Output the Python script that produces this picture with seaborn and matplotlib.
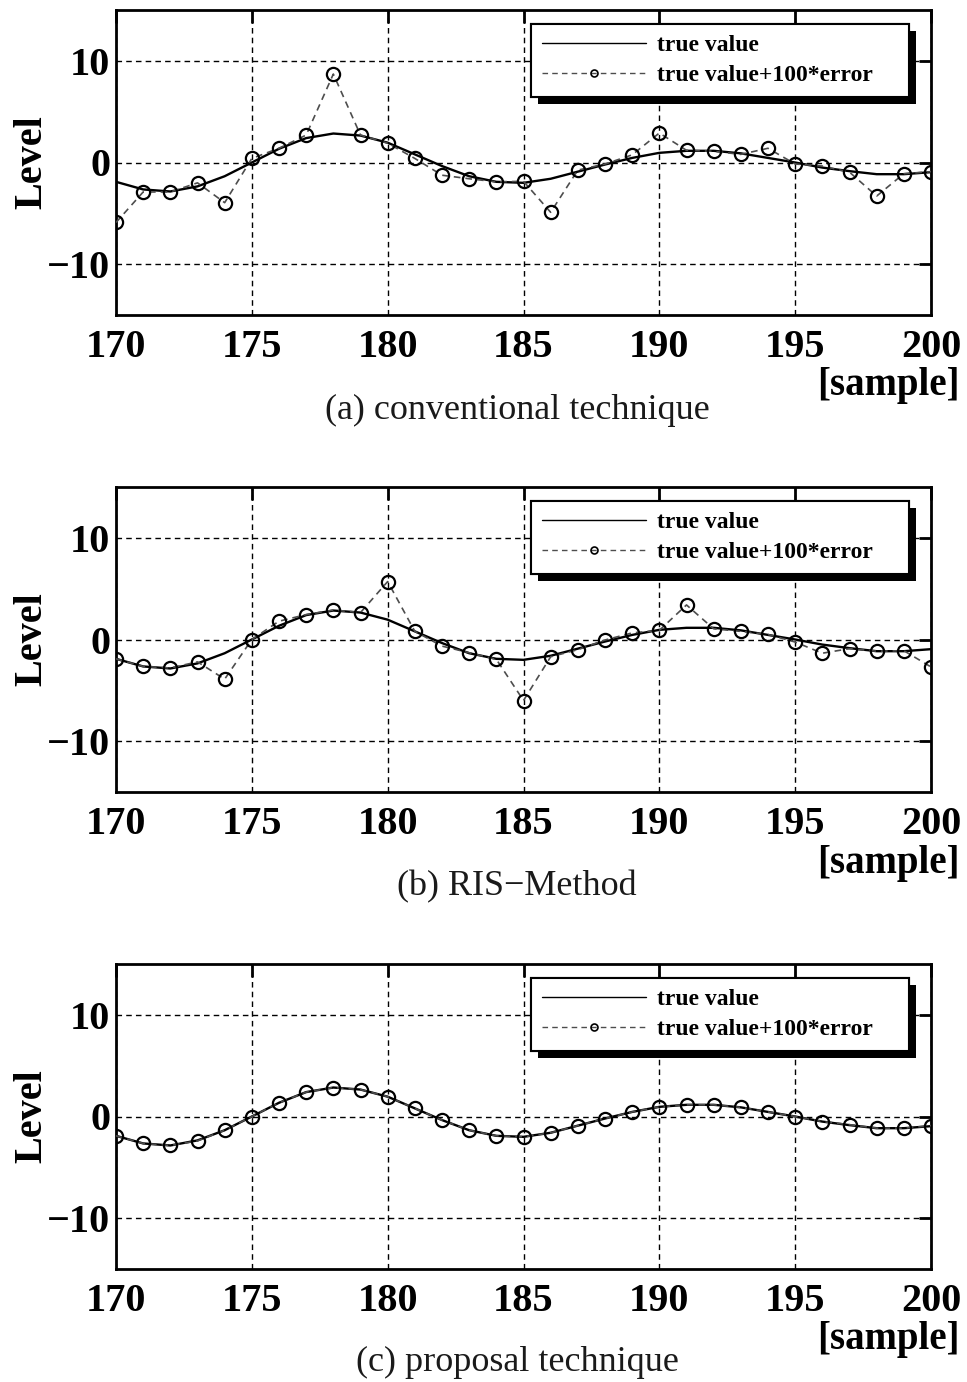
import matplotlib
matplotlib.use("Agg")
import matplotlib.pyplot as plt
import seaborn as sns
from matplotlib import patheffects as pe

# ---- data ----
samples = list(range(170, 201))
true_value = [-1.9, -2.65, -2.85, -2.35, -1.35, 0.0, 1.35, 2.4, 2.85, 2.65, 1.95,
              0.8, -0.35, -1.35, -1.9, -2.0, -1.6, -0.9, -0.2, 0.45, 0.95,
              1.15, 1.15, 0.9, 0.45, 0.0, -0.5, -0.85, -1.15, -1.15, -0.95]
conventional = [-5.9, -2.9, -2.9, -2.0, -3.95, 0.4, 1.4, 2.7, 8.7, 2.7, 1.9,
                0.4, -1.25, -1.6, -1.9, -1.85, -4.9, -0.75, -0.15, 0.75, 2.9,
                1.2, 1.1, 0.8, 1.4, -0.15, -0.35, -0.95, -3.3, -1.1, -0.9]
ris_method = [-1.9, -2.65, -2.8, -2.2, -3.9, 0.0, 1.8, 2.45, 2.9, 2.65, 5.7,
              0.8, -0.65, -1.3, -1.95, -6.0, -1.7, -1.0, -0.05, 0.65, 0.9,
              3.4, 1.05, 0.8, 0.5, -0.25, -1.35, -0.9, -1.15, -1.1, -2.7]
proposal = [-1.9, -2.65, -2.85, -2.4, -1.35, 0.0, 1.35, 2.4, 2.85, 2.65, 1.95,
            0.8, -0.35, -1.35, -1.9, -2.0, -1.6, -0.9, -0.2, 0.45, 0.95,
            1.15, 1.15, 0.9, 0.45, 0.0, -0.5, -0.8, -1.15, -1.15, -0.9]
captions = ["(a) conventional technique", "(b) RIS\u2212Method", "(c) proposal technique"]
x_ticks = [170, 175, 180, 185, 190, 195, 200]
y_ticks = [-10, 0, 10]
legend_labels = ["true value", "true value+100*error"]

sns.set_style("white")
plt.rcParams["font.family"] = ["Liberation Serif", "DejaVu Serif"]
plt.rcParams["axes.unicode_minus"] = True
plt.rcParams["text.color"] = "k"

W, H = 967, 1382
fig = plt.figure(figsize=(W / 100, H / 100), dpi=100)

ax_tops = [10, 487, 964]
ax_h = 305
cap_y = [410, 887, 1362]
sample_y = [386, 863, 1339]
series = [conventional, ris_method, proposal]

for i in range(3):
    bottom = 1 - (ax_tops[i] + ax_h) / H
    ax = fig.add_axes([116 / W, bottom, 815 / W, ax_h / H])
    ax.grid(True, color="k", linestyle=(0, (4, 3)), linewidth=1.0)
    ax.set_axisbelow(True)
    sns.lineplot(x=samples, y=true_value, ax=ax, color="k", linewidth=1.7,
                 label=legend_labels[0], zorder=3)
    sns.lineplot(x=samples, y=series[i], ax=ax, color="0.3", linewidth=1.2,
                 linestyle=(0, (4, 3)), marker="o", markersize=9.5,
                 markerfacecolor="none", markeredgecolor="k", markeredgewidth=1.6,
                 label=legend_labels[1], zorder=4)
    ax.set_xlim(170, 200)
    ax.set_ylim(-15, 15)
    ax.set_xticks(x_ticks)
    ax.set_yticks(y_ticks)
    ax.set_xlabel("")
    ax.set_ylabel("Level", fontsize=29, fontweight="bold", color="k")
    ax.yaxis.set_label_coords(-0.080, 0.5)
    ax.tick_params(direction="in", length=9, width=2, top=True, right=True,
                   labelsize=29, colors="k")
    ax.tick_params(axis="x", pad=10)
    ax.tick_params(axis="y", pad=4)
    for lab in ax.get_xticklabels() + ax.get_yticklabels():
        lab.set_fontweight("bold")
    for sp in ax.spines.values():
        sp.set_color("k")
        sp.set_linewidth(2)

    handles, labels = ax.get_legend_handles_labels()
    x0 = (531 - 116) / 815
    wbox = (909 - 531) / 815
    leg = ax.legend(handles, labels, loc="upper left",
                    bbox_to_anchor=(x0, 0.3, wbox, 0.654), mode="expand",
                    borderaxespad=0, frameon=True, fancybox=False, framealpha=1,
                    edgecolor="k", handlelength=4.4, handletextpad=0.5,
                    borderpad=0.45, labelspacing=0.35,
                    prop={"family": "Liberation Serif", "weight": "bold", "size": 17})
    leg.get_frame().set_linewidth(1.5)
    leg.get_frame().set_path_effects([
        pe.withSimplePatchShadow(offset=(5, -5), shadow_rgbFace="k", alpha=1),
        pe.Normal()])
    for h in leg.legend_handles:
        h.set_markersize(5)
        h.set_markeredgewidth(1.2)
        h.set_linewidth(1.0)
    leg.set_zorder(10)

    fig.text(888 / W, 1 - sample_y[i] / H, "[sample]", fontsize=28,
             fontweight="bold", ha="center", va="center", color="k")
    fig.text(517 / W, 1 - cap_y[i] / H, captions[i], fontsize=26,
             fontweight="normal", ha="center", va="center", color="0.1")

fig.savefig("out.png", dpi=100)
